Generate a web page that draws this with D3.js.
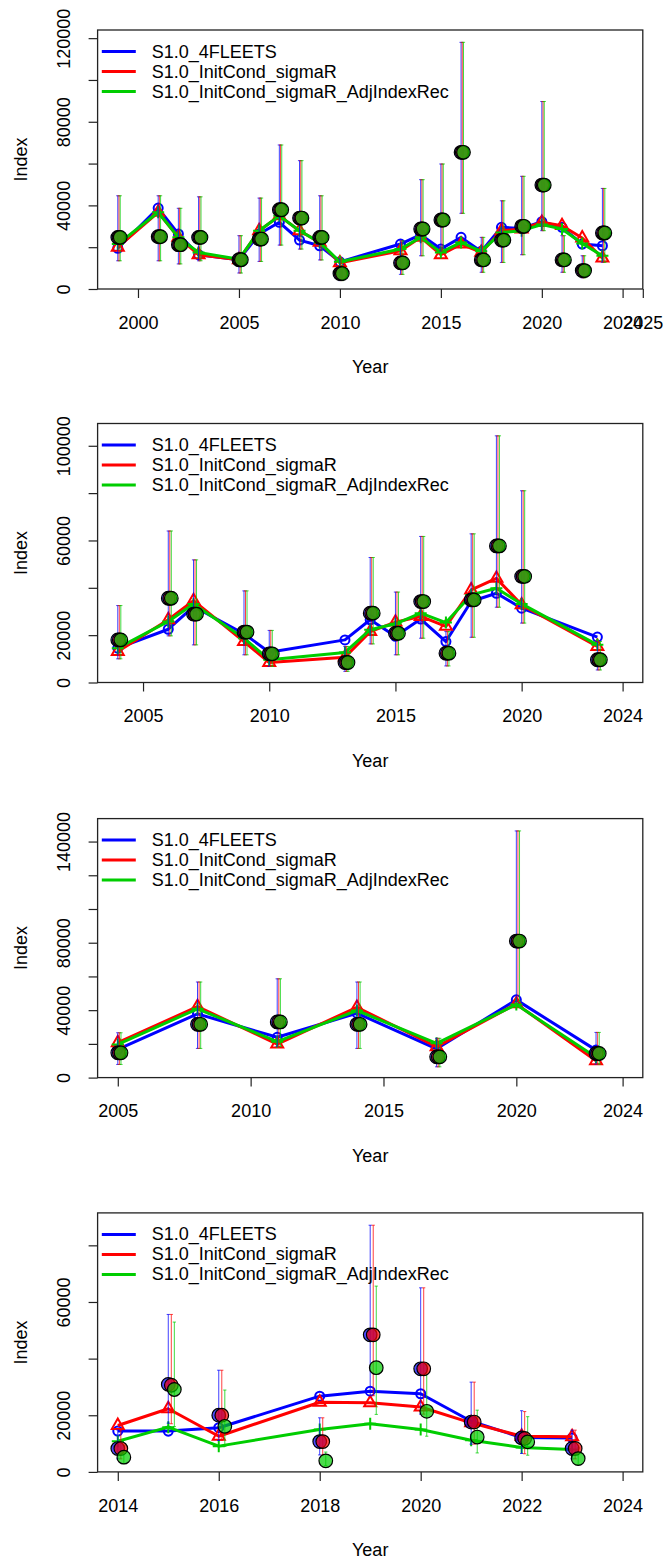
<!DOCTYPE html>
<html>
<head>
<meta charset="utf-8">
<script src="https://cdn.jsdelivr.net/npm/d3@7"></script>
<style>
  body { margin: 0; background: #fff; }
  svg text { font-family: "Liberation Sans", Arial, Helvetica, sans-serif; font-size: 18px; fill: #000; }
</style>
</head>
<body>
<svg id="chart" width="663" height="1562"></svg>
<script>
// Model runs compared in every panel
const modelNames = ["S1.0_4FLEETS", "S1.0_InitCond_sigmaR", "S1.0_InitCond_sigmaR_AdjIndexRec"];
const modelColors = ["#0000FF", "#FF0000", "#00CD00"];
const endYear = 2024;

// ---- Index 1 ----
const years1 = [1999, 2001, 2002, 2003, 2005, 2006, 2007, 2008, 2009, 2010, 2013, 2014, 2015, 2016, 2017, 2018, 2019, 2020, 2021, 2022, 2023];
const obs1 = [24700, 25000, 21200, 24700, 14000, 23900, 37900, 33950, 24700, 7400, 12500, 28700, 33000, 65400, 13900, 23400, 30000, 49700, 13900, 8800, 26800];
const hi1  = [44600, 44600, 38600, 44100, 25500, 43500, 68900, 61400, 44600, 14500, 23000, 52300, 59800, 118000, 24700, 42200, 53900, 89700, 25500, 15900, 48100];
const lo1  = [13500, 13500, 12000, 13500, 7650, 13200, 21000, 19100, 13900, 4000, 7000, 15900, 18200, 36200, 8000, 12700, 16400, 27900, 8000, 5300, 12750];
const exp1_4fleets = [19500, 38700, 26300, 16400, 14000, 26300, 31900, 23400, 20700, 13000, 21500, 26000, 19100, 24700, 18000, 29500, 29000, 32200, 29500, 21500, 20700];
const exp1_sigmaR  = [20000, 36700, 24700, 16400, 14000, 27900, 35000, 27900, 22300, 12500, 18300, 24700, 16400, 21500, 17500, 27900, 28700, 31900, 30300, 24400, 14800];
const exp1_adj     = [21500, 36700, 24700, 17500, 14200, 27900, 35000, 27900, 22300, 13000, 19100, 24700, 17500, 22300, 18000, 27000, 27900, 30800, 28700, 21800, 15900];
const xTicks1 = [2000, 2005, 2010, 2015, 2020, 2024, 2025];
const yTicks1 = [0, 20000, 40000, 60000, 80000, 100000, 120000];
const yLabels1 = [0, 40000, 80000, 120000];

// ---- Index 2 ----
const years2 = [2004, 2006, 2007, 2009, 2010, 2013, 2014, 2015, 2016, 2017, 2018, 2019, 2020, 2023];
const obs2 = [18000, 35600, 28900, 21300, 12100, 8450, 29300, 20800, 34200, 12400, 34900, 57700, 44800, 9600];
const hi2  = [32500, 64000, 51800, 38700, 22000, 15200, 52800, 38200, 61700, 21500, 62800, 104200, 81000, 17300];
const lo2  = [10000, 19700, 15900, 11700, 6800, 4700, 16300, 11700, 18700, 7000, 19100, 31800, 25100, 5300];
const exp2_4fleets = [14500, 22500, 32100, 20600, 12800, 18000, 26500, 19500, 26800, 17300, 34200, 37700, 31400, 19200];
const exp2_sigmaR  = [13100, 26500, 34600, 17300, 8400, 10700, 21500, 25500, 27900, 23700, 39100, 44000, 32800, 15200];
const exp2_adj     = [14500, 25800, 33200, 18700, 9600, 12700, 22300, 24800, 29300, 25300, 37000, 39800, 33200, 15900];
const xTicks2 = [2005, 2010, 2015, 2020, 2024];
const yTicks2 = [0, 20000, 40000, 60000, 80000, 100000];
const yLabels2 = [0, 20000, 60000, 100000];

// ---- Index 3 ----
const years3 = [2005, 2008, 2011, 2014, 2017, 2020, 2023];
const obs3 = [14700, 31600, 33000, 31600, 12300, 81000, 14300];
const hi3  = [26600, 56700, 58600, 56700, 23300, 146300, 26800];
const lo3  = [7800, 17300, 18500, 17300, 6400, 45000, 8000];
const exp3_4fleets = [16700, 37800, 23900, 38200, 17100, 46100, 16300];
const exp3_sigmaR  = [20700, 42100, 19900, 41700, 18300, 43700, 10000];
const exp3_adj     = [19700, 40800, 21300, 39800, 20300, 43300, 12000];
const xTicks3 = [2005, 2010, 2015, 2020, 2024];
const yTicks3 = [0, 20000, 40000, 60000, 80000, 100000, 120000, 140000];
const yLabels3 = [0, 40000, 80000, 140000];

// ---- Index 4 (observations differ between runs) ----
const years4 = [2014, 2015, 2016, 2018, 2019, 2020, 2021, 2022, 2023];
const obs4_4fleets = [8250, 30900, 20000, 10700, 48400, 36400, 17600, 12000, 8260];
const obs4_sigmaR  = [8250, 30600, 20000, 10700, 48400, 36400, 17600, 11800, 8260];
const obs4_adj     = [5200, 29100, 16100, 3900, 36800, 21400, 12300, 10600, 4700];
const hi4_4fleets  = [14800, 55600, 35900, 19100, 87100, 65000, 31700, 21600, 14750];
const hi4_sigmaR   = [14800, 55600, 35900, 19100, 87100, 65000, 31700, 21300, 14750];
const hi4_adj      = [9400, 52900, 28900, 7000, 65600, 38000, 21800, 19500, 8500];
const lo4_4fleets  = [4600, 17200, 11100, 6000, 26900, 20400, 9800, 6500, 4600];
const lo4_sigmaR   = [4600, 17000, 11100, 6000, 26900, 20400, 9800, 6400, 4600];
const lo4_adj      = [2900, 16000, 9000, 2200, 20300, 12600, 6700, 5900, 2600];
const exp4_4fleets = [14400, 14400, 15600, 26750, 28500, 27600, 17900, 12150, 12000];
const exp4_sigmaR  = [16400, 22300, 12600, 24600, 24400, 22900, 17300, 12600, 12400];
const exp4_adj     = [10800, 15800, 9100, 15000, 17000, 15000, 11200, 8600, 7900];
const xTicks4 = [2014, 2016, 2018, 2020, 2022, 2024];
const yTicks4 = [0, 20000, 40000, 60000, 80000];
const yLabels4 = [0, 20000, 60000];

const panels = [
  { years: years1, obs: [obs1, obs1, obs1], lo: [lo1, lo1, lo1], hi: [hi1, hi1, hi1],
    exp: [exp1_4fleets, exp1_sigmaR, exp1_adj], xTicks: xTicks1, yTicks: yTicks1, yLabels: yLabels1 },
  { years: years2, obs: [obs2, obs2, obs2], lo: [lo2, lo2, lo2], hi: [hi2, hi2, hi2],
    exp: [exp2_4fleets, exp2_sigmaR, exp2_adj], xTicks: xTicks2, yTicks: yTicks2, yLabels: yLabels2 },
  { years: years3, obs: [obs3, obs3, obs3], lo: [lo3, lo3, lo3], hi: [hi3, hi3, hi3],
    exp: [exp3_4fleets, exp3_sigmaR, exp3_adj], xTicks: xTicks3, yTicks: yTicks3, yLabels: yLabels3 },
  { years: years4, obs: [obs4_4fleets, obs4_sigmaR, obs4_adj], lo: [lo4_4fleets, lo4_sigmaR, lo4_adj],
    hi: [hi4_4fleets, hi4_sigmaR, hi4_adj], exp: [exp4_4fleets, exp4_sigmaR, exp4_adj],
    xTicks: xTicks4, yTicks: yTicks4, yLabels: yLabels4 }
];

// Layout
const plotLeft = 97.6, plotRight = 642.8, plotH = 259;
const panelTops = [30, 423.5, 818.6, 1212.9];
const obsShift = 0.06;     // x offset (years) between runs for observations
const tickLen = 9;

const svg = d3.select("#chart");

panels.forEach((p, pi) => {
  const top = panelTops[pi], bottom = top + plotH;
  const x0 = p.years[0], x1 = endYear, pad = 0.04 * (x1 - x0);
  const x = d3.scaleLinear().domain([x0 - pad, x1 + pad]).range([plotLeft, plotRight]);
  const yMax = d3.max(p.hi.flat()) * 1.05;
  const y = d3.scaleLinear().domain([0, yMax]).range([bottom, top]);
  const g = svg.append("g");

  // x axis
  g.append("g")
    .attr("transform", `translate(0,${bottom})`)
    .style("color", "#222")
    .call(d3.axisBottom(x).tickValues(p.xTicks).tickFormat(d3.format("d")).tickSize(tickLen).tickSizeOuter(0))
    .call(a => a.select(".domain").remove())
    .call(a => a.selectAll("line").attr("stroke-width", 1.2))
    .call(a => a.selectAll("text").attr("y", 33.4).attr("dy", "0.35em"));

  // y axis with rotated labels
  g.append("g")
    .attr("transform", `translate(${plotLeft},0)`)
    .style("color", "#222")
    .call(d3.axisLeft(y).tickValues(p.yTicks)
      .tickFormat(d => p.yLabels.includes(d) ? String(d) : "")
      .tickSize(tickLen).tickSizeOuter(0))
    .call(a => a.select(".domain").remove())
    .call(a => a.selectAll("line").attr("stroke-width", 1.2))
    .call(a => a.selectAll("text")
      .attr("x", null).attr("dy", null)
      .attr("text-anchor", "middle")
      .attr("dominant-baseline", "central")
      .attr("transform", "translate(-34,0) rotate(-90)"));

  // plot box
  g.append("rect")
    .attr("x", plotLeft).attr("y", top)
    .attr("width", plotRight - plotLeft).attr("height", plotH)
    .attr("fill", "none").attr("stroke", "#222").attr("stroke-width", 1.3);

  // axis titles
  g.append("text").attr("x", (plotLeft + plotRight) / 2).attr("y", bottom + 78)
    .attr("text-anchor", "middle").attr("dominant-baseline", "central").text("Year");
  g.append("text")
    .attr("transform", `translate(21,${(top + bottom) / 2}) rotate(-90)`)
    .attr("text-anchor", "middle").attr("dominant-baseline", "central").text("Index");

  // expected index lines with point symbols
  const line = d3.line().x(d => x(d.yr)).y(d => y(d.v));
  p.exp.forEach((vals, m) => {
    const pts = p.years.map((yr, i) => ({ yr, v: vals[i] }));
    g.append("path").datum(pts).attr("d", line)
      .attr("fill", "none").attr("stroke", modelColors[m]).attr("stroke-width", 3)
      .attr("stroke-linejoin", "round");
    const sym = g.append("g").selectAll("path").data(pts).join("path")
      .attr("transform", d => `translate(${x(d.yr)},${y(d.v)})`)
      .attr("fill", "none").attr("stroke", modelColors[m]).attr("stroke-width", 2);
    if (m === 0) sym.attr("d", d3.symbol(d3.symbolCircle, 64)());
    else if (m === 1) sym.attr("d", d3.symbol(d3.symbolTriangle, 62)());
    else sym.attr("d", "M-6,0H6M0,-6V6");
  });

  // observation uncertainty intervals
  p.obs.forEach((vals, m) => {
    const col = modelColors[m];
    const eb = g.append("g").attr("stroke", col).attr("stroke-width", 1).attr("stroke-opacity", 0.75);
    p.years.forEach((yr, i) => {
      const cx = x(yr + m * obsShift);
      const yl = y(p.lo[m][i]), yh = y(p.hi[m][i]);
      eb.append("line").attr("x1", cx).attr("x2", cx).attr("y1", yl).attr("y2", yh);
      eb.append("line").attr("x1", cx - 1.6).attr("x2", cx + 1.6).attr("y1", yh).attr("y2", yh);
      eb.append("line").attr("x1", cx - 1.6).attr("x2", cx + 1.6).attr("y1", yl).attr("y2", yl);
    });
  });

  // observed values
  p.obs.forEach((vals, m) => {
    g.append("g").selectAll("circle").data(p.years.map((yr, i) => ({ yr, v: vals[i] }))).join("circle")
      .attr("cx", d => x(d.yr + m * obsShift)).attr("cy", d => y(d.v)).attr("r", 6.8)
      .attr("fill", modelColors[m]).attr("fill-opacity", 0.7)
      .attr("stroke", "#000").attr("stroke-width", 1.2);
  });

  // legend
  const lg = g.append("g");
  modelNames.forEach((name, m) => {
    const ly = top + 21.5 + m * 20;
    lg.append("line").attr("x1", 101.8).attr("x2", 135.8).attr("y1", ly).attr("y2", ly)
      .attr("stroke", modelColors[m]).attr("stroke-width", 3);
    lg.append("text").attr("x", 151.7).attr("y", ly).attr("dominant-baseline", "central").text(name);
  });
});
</script>
</body>
</html>
